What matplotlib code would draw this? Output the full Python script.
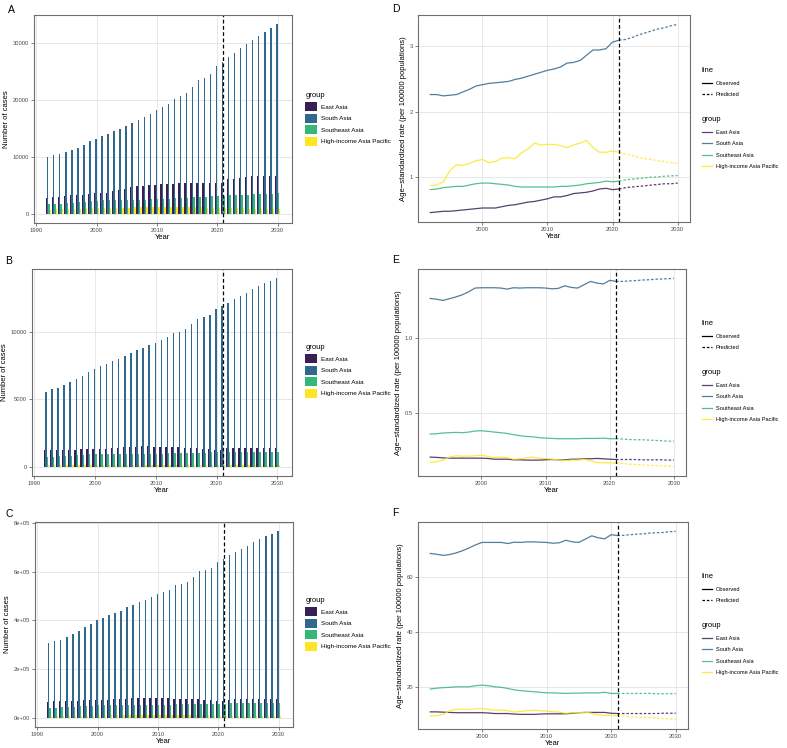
import numpy as np
import matplotlib.pyplot as plt
from matplotlib.patches import Patch
from matplotlib.lines import Line2D
from matplotlib.ticker import FuncFormatter

plt.rcParams['font.family'] = ['Liberation Sans', 'DejaVu Sans']

years = np.arange(1992, 2031)
groups = ["East Asia", "South Asia", "Southeast Asia", "High-income Asia Pacific"]
colors = ["#3a1f55", "#31688E", "#35B779", "#FDE725"]

# ---- panel A: number of cases ----
a_east = [2800, 2900, 3000, 3100, 3200, 3250, 3350, 3450, 3550, 3600, 3700, 3900, 4100, 4350,
          4600, 4800, 4900, 5000, 5100, 5200, 5200, 5250, 5350, 5350, 5300, 5300, 5400, 5400,
          5350, 5300, 6000, 6150, 6300, 6450, 6550, 6650, 6650, 6600, 6550]
a_south = [10000, 10300, 10500, 10900, 11200, 11600, 12100, 12750, 13200, 13600, 14050, 14450,
           14900, 15450, 15900, 16450, 17000, 17600, 18200, 18700, 19300, 20200, 20650, 21300,
           22300, 23500, 23950, 24600, 25900, 26700, 27500, 28250, 29100, 29900, 30600, 31300,
           32000, 32600, 33300]
a_southeast = [1600, 1650, 1700, 1800, 1900, 2000, 2100, 2150, 2250, 2300, 2300, 2300, 2300,
               2300, 2300, 2400, 2450, 2500, 2500, 2550, 2600, 2650, 2700, 2800, 2850, 2900,
               3000, 3050, 3100, 3150, 3200, 3250, 3300, 3350, 3400, 3450, 3500, 3500, 3550]
a_hi = [700, 750, 780, 820, 850, 880, 900, 930, 950, 980, 1000, 1020, 1040, 1060, 1080, 1100,
        1120, 1150, 1180, 1200, 1200, 1200, 1180, 1150, 1150, 1100, 1050, 1000, 980, 950, 930,
        910, 900, 880, 860, 850, 830, 820, 800]

# ---- panel B ----
b_east = [1200, 1210, 1230, 1240, 1250, 1260, 1270, 1280, 1290, 1290, 1300, 1350, 1380, 1420,
          1460, 1490, 1500, 1500, 1490, 1480, 1460, 1440, 1430, 1410, 1390, 1360, 1330, 1300,
          1260, 1240, 1350, 1370, 1380, 1400, 1410, 1410, 1410, 1400, 1390]
b_south = [5570, 5740, 5840, 6060, 6260, 6480, 6730, 7050, 7280, 7470, 7650, 7850, 8020, 8240,
           8420, 8640, 8790, 9010, 9210, 9400, 9600, 9900, 10000, 10220, 10570, 10940, 11090,
           11260, 11680, 11930, 12180, 12420, 12670, 12920, 13170, 13420, 13610, 13790, 13980]
b_southeast = [700, 720, 760, 790, 820, 850, 880, 900, 920, 930, 940, 950, 950, 950, 950, 950,
               950, 960, 960, 970, 980, 990, 1000, 1010, 1020, 1030, 1040, 1050, 1060, 1070,
               1070, 1070, 1080, 1080, 1080, 1080, 1080, 1080, 1080]
b_hi = [120, 125, 130, 135, 140, 145, 148, 150, 152, 153, 154, 155, 155, 155, 154, 153, 152,
        150, 148, 146, 144, 142, 140, 138, 136, 134, 132, 130, 128, 126, 124, 122, 120, 118,
        116, 114, 112, 110, 108]

# ---- panel C ----
c_east = [66000, 67000, 68000, 69000, 70000, 70500, 71000, 71500, 72000, 72000, 73000, 75000,
          77000, 78000, 79000, 80000, 80500, 80500, 80000, 79500, 79000, 78000, 77500, 77000,
          76000, 75000, 73000, 71000, 69000, 68000, 74000, 75000, 76000, 77000, 77500, 78000,
          78000, 77500, 77000]
c_south = [305000, 314600, 320000, 332000, 343000, 355000, 371500, 386500, 400000, 409500,
           420000, 431000, 439000, 453000, 462000, 473000, 485000, 495000, 506000, 514000,
           525000, 544000, 549000, 559000, 579000, 601000, 607000, 616000, 640000, 651000,
           666000, 679000, 693000, 706000, 720000, 732000, 744000, 754000, 765000]
c_southeast = [38000, 40000, 42000, 44000, 45500, 47000, 48500, 50000, 51000, 52000, 52500,
               53000, 53000, 53000, 53000, 53000, 53000, 53000, 53500, 54000, 54000, 54500,
               55000, 55500, 56000, 56500, 57000, 57500, 58000, 58000, 58500, 58500, 59000,
               59000, 59000, 59000, 59000, 59000, 59000]
c_hi = [7000, 7200, 7400, 7600, 7800, 8000, 8200, 8400, 8600, 8800, 9000, 9200, 9300, 9400,
        9500, 9600, 9700, 9800, 9800, 9800, 9700, 9600, 9500, 9400, 9300, 9200, 9000, 8800,
        8600, 8400, 8300, 8200, 8100, 8000, 7900, 7800, 7700, 7600, 7500]

# ---- panel D: age-standardized rate ----
d_east = [0.46, 0.47, 0.48, 0.48, 0.49, 0.50, 0.51, 0.52, 0.53, 0.53, 0.53, 0.55, 0.57, 0.58,
          0.60, 0.62, 0.63, 0.65, 0.67, 0.70, 0.70, 0.72, 0.75, 0.76, 0.77, 0.79, 0.82, 0.83,
          0.81, 0.82, 0.84, 0.85, 0.86, 0.87, 0.88, 0.89, 0.90, 0.90, 0.91]
d_south = [2.26, 2.26, 2.24, 2.25, 2.26, 2.30, 2.34, 2.39, 2.41, 2.43, 2.44, 2.45, 2.46, 2.49,
           2.51, 2.54, 2.57, 2.60, 2.63, 2.65, 2.68, 2.74, 2.75, 2.78, 2.86, 2.94, 2.94, 2.96,
           3.06, 3.09, 3.10, 3.13, 3.17, 3.20, 3.23, 3.26, 3.28, 3.31, 3.33]
d_southeast = [0.81, 0.82, 0.84, 0.85, 0.86, 0.86, 0.88, 0.90, 0.91, 0.91, 0.90, 0.89, 0.88,
               0.86, 0.85, 0.85, 0.85, 0.85, 0.85, 0.85, 0.86, 0.86, 0.87, 0.88, 0.90, 0.91,
               0.92, 0.94, 0.93, 0.94, 0.96, 0.97, 0.98, 0.99, 1.00, 1.005, 1.015, 1.02, 1.025]
d_hi = [0.87, 0.88, 0.93, 1.10, 1.19, 1.18, 1.21, 1.25, 1.27, 1.22, 1.24, 1.29, 1.30, 1.28,
        1.37, 1.43, 1.52, 1.49, 1.50, 1.50, 1.48, 1.45, 1.49, 1.52, 1.56, 1.45, 1.38, 1.38,
        1.40, 1.38, 1.35, 1.33, 1.30, 1.28, 1.27, 1.25, 1.24, 1.22, 1.21]

# ---- panel E ----
e_east = [0.207, 0.205, 0.202, 0.200, 0.200, 0.200, 0.200, 0.200, 0.200, 0.198, 0.193, 0.193,
          0.193, 0.189, 0.189, 0.187, 0.187, 0.187, 0.189, 0.191, 0.189, 0.189, 0.193, 0.193,
          0.196, 0.196, 0.198, 0.196, 0.193, 0.191, 0.191, 0.191, 0.191, 0.189, 0.189, 0.189,
          0.189, 0.187, 0.187]
e_south = [1.260, 1.255, 1.247, 1.258, 1.270, 1.284, 1.304, 1.329, 1.331, 1.331, 1.331, 1.329,
           1.322, 1.331, 1.329, 1.331, 1.331, 1.331, 1.329, 1.324, 1.327, 1.344, 1.333, 1.329,
           1.351, 1.373, 1.362, 1.356, 1.380, 1.373, 1.373, 1.376, 1.378, 1.382, 1.384, 1.387,
           1.389, 1.391, 1.393]
e_southeast = [0.360, 0.362, 0.367, 0.369, 0.371, 0.369, 0.373, 0.380, 0.382, 0.378, 0.373,
               0.369, 0.364, 0.356, 0.349, 0.344, 0.342, 0.336, 0.333, 0.331, 0.329, 0.329,
               0.329, 0.329, 0.331, 0.331, 0.331, 0.333, 0.329, 0.329, 0.327, 0.324, 0.322,
               0.322, 0.320, 0.318, 0.316, 0.313, 0.313]
e_hi = [0.173, 0.176, 0.187, 0.207, 0.216, 0.213, 0.213, 0.216, 0.220, 0.211, 0.204, 0.207,
        0.204, 0.193, 0.196, 0.202, 0.207, 0.200, 0.198, 0.193, 0.189, 0.184, 0.187, 0.187,
        0.193, 0.182, 0.171, 0.169, 0.169, 0.167, 0.164, 0.160, 0.158, 0.156, 0.153, 0.151,
        0.149, 0.147, 0.144]

# ---- panel F ----
f_east = [11.0, 11.0, 10.9, 10.8, 10.7, 10.7, 10.7, 10.7, 10.7, 10.6, 10.4, 10.4, 10.4, 10.2,
          10.1, 10.1, 10.1, 10.2, 10.3, 10.3, 10.3, 10.3, 10.5, 10.7, 10.8, 10.8, 10.8, 10.8,
          10.5, 10.4, 10.4, 10.4, 10.4, 10.4, 10.4, 10.4, 10.5, 10.5, 10.5]
f_south = [68.5, 68.2, 67.8, 68.1, 68.7, 69.5, 70.5, 71.6, 72.5, 72.5, 72.5, 72.5, 72.1, 72.6,
           72.5, 72.7, 72.7, 72.6, 72.5, 72.2, 72.4, 73.3, 72.7, 72.5, 73.7, 74.9, 74.2, 73.8,
           75.3, 75.0, 75.1, 75.3, 75.5, 75.6, 75.9, 76.0, 76.1, 76.4, 76.5]
f_southeast = [19.3, 19.6, 19.8, 19.9, 20.1, 20.1, 20.1, 20.5, 20.7, 20.5, 20.1, 19.9, 19.5,
               19.0, 18.7, 18.5, 18.3, 18.1, 17.9, 17.9, 17.8, 17.7, 17.8, 17.8, 17.9, 17.9,
               17.9, 18.1, 17.7, 17.7, 17.7, 17.7, 17.7, 17.7, 17.7, 17.6, 17.6, 17.6, 17.6]
f_hi = [9.5, 9.6, 10.1, 11.4, 12.0, 11.9, 11.9, 12.1, 12.2, 11.9, 11.6, 11.7, 11.4, 10.9,
        11.2, 11.4, 11.6, 11.4, 11.3, 11.0, 10.9, 10.5, 10.7, 10.7, 10.9, 10.5, 9.9, 9.7,
        9.7, 9.6, 9.5, 9.2, 9.1, 9.0, 8.9, 8.8, 8.6, 8.5, 8.2]

bar_panels = [
    ("A", [a_east, a_south, a_southeast, a_hi], [0, 10000, 20000, 30000], "plain"),
    ("B", [b_east, b_south, b_southeast, b_hi], [0, 5000, 10000], "plain"),
    ("C", [c_east, c_south, c_southeast, c_hi], [0, 200000, 400000, 600000, 800000], "sci"),
]
line_panels = [
    ("D", [d_east, d_south, d_southeast, d_hi], [1, 2, 3], "%d"),
    ("E", [e_east, e_south, e_southeast, e_hi], [0.5, 1.0], "%.1f"),
    ("F", [f_east, f_south, f_southeast, f_hi], [20, 40, 60], "%d"),
]

cut_year = 2021
W, H = 787, 748
TICK = 4.2
TITLE = 5.5
LEG = 4.6
LEG_LINE = 4.1


def rect(x0, y0, x1, y1):
    return [x0 / W, 1 - y1 / H, (x1 - x0) / W, (y1 - y0) / H]


def style_axes(ax):
    ax.set_facecolor("white")
    ax.grid(True, color="#e3e3e3", lw=0.6)
    ax.set_axisbelow(True)
    for s in ax.spines.values():
        s.set_color("#6e6e6e")
        s.set_linewidth(0.8)
    ax.tick_params(labelsize=TICK, labelcolor="#4d4d4d", color="#4d4d4d",
                   length=2, width=0.5, pad=1.5)


def sci_fmt(v, pos):
    if v == 0:
        return "0e+00"
    m, e = f"{v:.0e}".split("e")
    return f"{m}e+{int(e):02d}"


fig = plt.figure(figsize=(W / 100, H / 100), dpi=100)

bar_rects = [(34, 15, 292, 223), (32, 269, 292, 476), (35, 522, 293, 727)]
bar_label_xy = [(8, 5), (5, 256), (5, 509)]
bar_legend_y = [88, 340, 593]

for (label, series, yt, fmt), r, lxy, ly in zip(bar_panels, bar_rects, bar_label_xy, bar_legend_y):
    ax = fig.add_axes(rect(*r))
    style_axes(ax)
    bw = 0.225
    for i, (vals, c) in enumerate(zip(series, colors)):
        ax.bar(years + (i - 1.5) * bw, vals, width=bw, color=c, linewidth=0)
    ax.axvline(cut_year, color="black", ls=(0, (3, 2)), lw=0.9)
    top = max(max(s) for s in series)
    ax.set_ylim(-0.05 * top, 1.05 * top)
    span = (2030.45 - 1991.55)
    ax.set_xlim(1991.55 - 0.05 * span, 2030.45 + 0.05 * span)
    ax.set_xticks([1990, 2000, 2010, 2020, 2030])
    ax.set_yticks(yt)
    if fmt == "sci":
        ax.yaxis.set_major_formatter(FuncFormatter(sci_fmt))
    ax.set_xlabel("Year", fontsize=TITLE, labelpad=1)
    ax.set_ylabel("Number of cases", fontsize=TITLE, labelpad=2)
    fig.text(lxy[0] / W, 1 - lxy[1] / H, label, fontsize=7.5, va="top", ha="left")
    handles = [Patch(facecolor=c, edgecolor="none") for c in colors]
    fig.legend(handles, groups, title="group", loc="upper left",
               bbox_to_anchor=(301 / W, 1 - ly / H), frameon=False, fontsize=LEG,
               title_fontsize=TITLE, handlelength=1.8, handleheight=1.8,
               labelspacing=0.4, handletextpad=0.7, alignment="left", borderpad=0.2)

line_rects = [(418, 15, 690, 222), (418, 269, 686, 476), (418, 522, 688, 729)]
line_label_xy = [(392, 4), (392, 255), (392, 508)]
line_legend_y = [63, 316, 569]

for (label, series, yt, fmt), r, lxy, ly in zip(line_panels, line_rects, line_label_xy, line_legend_y):
    ax = fig.add_axes(rect(*r))
    style_axes(ax)
    obs = years <= cut_year
    pred = years >= cut_year
    for vals, c in zip(series, colors):
        v = np.array(vals)
        ax.plot(years[obs], v[obs], color=c, lw=0.9, alpha=0.85)
        ax.plot(years[pred], v[pred], color=c, lw=0.9, alpha=0.85, ls=(0, (2, 1.5)))
    ax.axvline(cut_year, color="black", ls=(0, (3, 2)), lw=0.9)
    lo = min(min(s) for s in series)
    hi = max(max(s) for s in series)
    pad = 0.05 * (hi - lo)
    ax.set_ylim(lo - pad, hi + pad)
    ax.set_xlim(1992 - 0.05 * 38, 2030 + 0.05 * 38)
    ax.set_xticks([2000, 2010, 2020, 2030])
    ax.set_yticks(yt)
    ax.yaxis.set_major_formatter(FuncFormatter(lambda v, p, f=fmt: f % v))
    ax.set_xlabel("Year", fontsize=TITLE, labelpad=1)
    ax.set_ylabel("Age\u2212standardized rate (per 100000 populations)", fontsize=TITLE, labelpad=2)
    fig.text(lxy[0] / W, 1 - lxy[1] / H, label, fontsize=7.5, va="top", ha="left")
    lh = [Line2D([], [], color="black", lw=0.9),
          Line2D([], [], color="black", lw=0.9, ls=(0, (2, 1.5)))]
    fig.legend(lh, ["Observed", "Predicted"], title="line", loc="upper left",
               bbox_to_anchor=(698 / W, 1 - ly / H), frameon=False, fontsize=LEG_LINE,
               title_fontsize=TITLE, handlelength=1.7, labelspacing=1.15,
               handletextpad=0.7, alignment="left", borderpad=0.2)
    gh = [Line2D([], [], color=c, lw=0.9, alpha=0.85) for c in colors]
    fig.legend(gh, groups, title="group", loc="upper left",
               bbox_to_anchor=(698 / W, 1 - (ly + 49) / H), frameon=False, fontsize=LEG_LINE,
               title_fontsize=TITLE, handlelength=1.7, labelspacing=1.15,
               handletextpad=0.7, alignment="left", borderpad=0.2)

fig.savefig("out.png", dpi=100, facecolor="white")
